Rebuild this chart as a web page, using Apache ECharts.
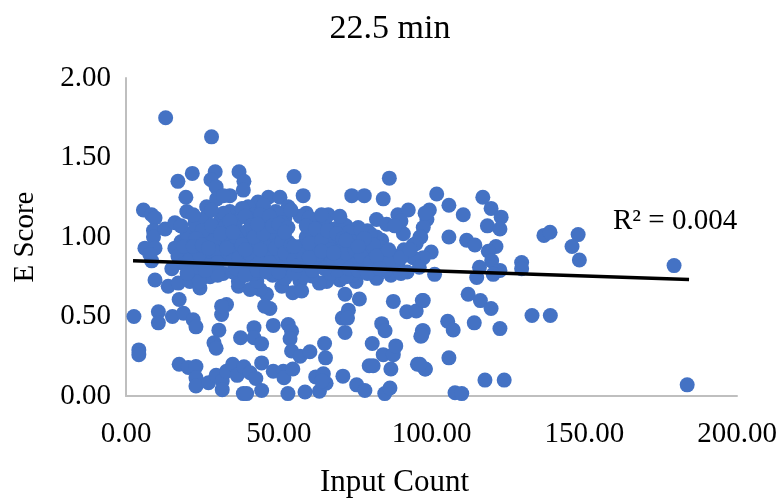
<!DOCTYPE html>
<html>
<head>
<meta charset="utf-8">
<title>22.5 min</title>
<script src="https://cdn.jsdelivr.net/npm/echarts@6/dist/echarts.min.js"></script>
<style>
html,body{margin:0;padding:0;background:#fff;}
#main{width:780px;height:502px;}
</style>
</head>
<body>
<div id="main"></div>
<script>
var chartTitle = '22.5 min';
var xName = 'Input Count';
var yName = 'E Score';
var r2Text = 'R² = 0.004';

// input count, e score
var lowPoints = [
	[2.6,0.50],[4.2,0.29],[4.2,0.26],[10.6,0.53],[10.6,0.46],[9.5,0.73],[15.2,0.50],[18.8,0.52],[22,0.48],[22.9,0.435],
	[17.4,0.607],[13.8,0.69],[17.1,0.71],[20.9,0.72],[24.2,0.68],[24.7,0.74],[30.4,0.414],[31.3,0.513],[32.9,0.575],[31.3,0.565],
	[28.8,0.335],[29.5,0.30],[37.5,0.366],[41.9,0.43],[41.9,0.366],[44.4,0.328],[48.2,0.444],[53.1,0.45],[54.2,0.408],[53.7,0.36],
	[54.2,0.283],[57,0.25],[60.2,0.278],[65,0.33],[65.3,0.24],[17.4,0.20],[20.4,0.18],[22.9,0.185],[22.9,0.115],[22.9,0.063],
	[27,0.083],[29.5,0.13],[31.5,0.095],[31.5,0.04],[32.9,0.156],[34.9,0.2],[36.4,0.13],[38.6,0.184],[40.6,0.146],[42.5,0.11],
	[44.4,0.208],[38.4,0.015],[39.5,0.015],[44.4,0.035],[48.2,0.156],[51.5,0.156],[51.7,0.115],[54.6,0.17],[53,0.015],[58.6,0.025],
	[63.3,0.03],[62.1,0.12],[64.6,0.14],[65.5,0.08],[64.1,0.095],[71,0.125],[75.5,0.07],[78.2,0.035],[84.7,0.015],[86.4,0.05],
	[79.6,0.19],[80.9,0.19],[86.7,0.17],[84.2,0.26],[87.5,0.26],[88.3,0.315],[80.6,0.33],[71.7,0.40],[70.8,0.49],[72.8,0.54],
	[72.5,0.49],[76.4,0.61],[71.7,0.64],[87.5,0.595],[83.7,0.455],[84.8,0.41],[91.9,0.53],[95,0.535],[97,0.60],[97,0.41],
	[96.5,0.376],[95.4,0.2],[97.9,0.17],[86.7,0.76],[75.3,0.72],[70,0.73],[65.7,0.72],[63.3,0.71],[60.8,0.755],[57,0.72],
	[54.6,0.65],[57.5,0.66],[51,0.69],[46,0.64],[47.1,0.55],[45.4,0.565],[43.9,0.67],[40.6,0.67],[36.8,0.69],[36.8,0.72],
	[42.8,0.72],[31.8,0.77],[27.5,0.75],[8.4,0.85],[15,0.8]
];
var rightPoints = [
	[101.7,1.27],[105.7,1.2],[110.4,1.14],[116.8,1.25],[119.5,1.18],[122.8,1.125],[118.3,1.07],[122.4,1.05],[105.7,1.0],[111.5,0.98],
	[114.2,0.95],[121.1,0.94],[118.6,0.91],[119.7,0.85],[115.7,0.81],[122.4,0.79],[120.2,0.765],[114.8,0.745],[129.5,0.84],[129.5,0.80],
	[136.8,1.01],[138.8,1.03],[148,1.015],[146,0.94],[148.4,0.855],[179.4,0.82],[183.7,0.07],[112,0.64],[116,0.6],[119.5,0.55],
	[132.9,0.506],[138.9,0.506],[122.4,0.424],[114,0.46],[105.3,0.47],[107.1,0.415],[105.7,0.24],[98,0.17],[96.2,0.2],[117.5,0.1],
	[123.8,0.1],[107.7,0.02],[109.9,0.015],[101,0.765],[97.3,0.6],[97.3,0.41],[96.8,0.38],[99.9,0.905],[97.3,0.87],[99.3,1.17],
	[98.5,1.11],[97.3,1.06],[96.5,1.0]
];
var upperPoints = [
	[12.98,1.75],[28,1.63],[17,1.35],[21.7,1.40],[29.2,1.41],[27.8,1.36],[29.5,1.315],[37,1.41],[38.6,1.35],[38.4,1.295],
	[55,1.38],[58,1.26],[86.2,1.37],[73.9,1.26],[78,1.26],[84.2,1.24],[5.7,1.17],[8.4,1.14],[9.5,1.12],[19.6,1.25],
	[19.9,1.16],[9,1.04],[9,1.0],[12.8,1.05],[16,1.09],[6.2,0.93],[9.5,0.93],[7.8,0.89],[26.4,1.19],[29.7,1.24],
	[34,1.26],[31.9,1.26],[34,1.16],[22.6,1.09],[30.8,1.1],[46.6,1.25],[50.4,1.25],[43.2,1.22],[40,1.19],[53.1,1.19],
	[59,1.15],[66.2,1.14],[70.6,1.09],[76,1.06],[82,1.11],[85.3,1.08],[89,1.14],[92.4,1.17],[97.9,1.15],[90.8,1.02],
	[83.7,0.98],[96.2,1.0]
];
// the solid cloud in the middle
var densePoints = [
	[16,0.93],[17,0.88],[18,0.97],[19,0.83],[20,1.02],[21,0.91],[22,0.79],[23,1.07],[24,0.96],[25,0.85],
	[26,1.12],[27,1.01],[28,0.9],[29,0.8],[30,1.05],[31,0.95],[32,1.15],[33,0.86],[34,1.0],[35,0.78],
	[36,1.1],[37,0.93],[38,1.18],[39,0.83],[40,1.04],[41,0.89],[42,1.14],[43,0.98],[44,0.8],[45,1.2],
	[46,1.08],[47,0.92],[48,0.76],[49,1.16],[50,1.02],[51,0.86],[52,1.12],[53,0.97],[54,0.8],
	[56,0.91],[57,1.13],[58,0.84],[59,1.0],[60,0.78],[61,1.08],[62,0.93],[63,1.02],[64,0.83],[65,1.1],
	[66,0.96],[67,0.77],[68,1.05],[69,0.89],[70,1.0],[71,0.82],[72,1.07],[73,0.94],[74,0.76],[75,1.02],
	[76,0.87],[77,0.97],[78,0.8],[79,1.04],[80,0.91],[81,0.78],[82,1.0],[83,0.86],[84,0.93],[85,0.79],
	[87,0.89],[89,0.82],[90,1.1],[91,0.92],[92,0.78],[94,0.87],[95,0.96],
	[96,0.81],[18,1.07],[20,0.77],[22,1.14],[24,0.72],[26,0.93],[28,1.17],[30,0.76],[32,0.99],[34,0.88],
	[36,0.8],[38,1.02],[40,1.12],[42,0.77],[44,1.07],[46,0.85],[48,0.98],[50,1.14],[52,0.74],[54,1.17],
	[58,0.75],[60,1.12],[62,0.82],[64,1.14],[66,0.86],[68,0.96],[70,1.13],[72,0.75],[74,0.88],
	[76,1.0],[78,0.92],[80,1.02],[82,0.74],[84,0.88],[86,0.84],[88,1.07],[90,0.77],[94,0.95],
	[25,1.04],[27,0.82],[29,0.98],[31,0.87],[33,1.08],[35,0.94],[37,1.03],[39,1.13],[41,0.97],[43,0.86],
	[45,0.95],[47,1.03],[49,0.81],[51,1.09],[53,0.88],[55,0.77],[59,0.92],[61,0.85],[63,0.97],
	[65,0.9],[67,1.0],[69,0.79],[71,0.93],[73,1.03],[75,0.84],[77,1.04],[79,0.85],[81,0.95],
	// second pass to close the white gaps
	[19,0.94],[21,0.86],[23,0.99],[24,0.89],[26,0.79],[28,1.07],[29,0.91],[30,0.84],[32,1.05],[33,0.93],
	[34,1.1],[35,0.85],[36,1.0],[37,0.87],[38,0.95],[39,0.76],[40,0.9],[41,1.07],[42,1.0],[43,0.79],
	[44,1.14],[44,0.92],[45,1.02],[46,0.78],[47,1.13],[48,1.07],[48,0.87],[49,0.93],[50,0.78],[50,1.08],
	[51,0.97],[52,0.9],[53,1.06],[54,0.95],[55,0.86],[56,0.82],[57,0.94],[58,0.89],[59,1.07],[60,0.96],
	[61,0.79],[62,1.05],[63,0.89],[64,0.98],[65,0.8],[66,1.04],[67,0.92],[68,0.84],[69,1.02],[70,0.87],
	[71,0.99],[72,0.9],[73,0.8],[74,0.97],[75,0.92],[76,0.79],[77,0.88],[78,0.99],[79,0.77],[80,0.84],
	[22,0.94],[25,0.95],[27,0.93],[31,1.02],[35,1.03],[39,0.92],[43,1.08],[47,0.84],[52,1.03],[55,0.94],
	[60,0.87],[64,0.91],[68,0.9],[72,0.98],[76,0.94],[82,0.88],[86,0.92],[90,0.87],[93,0.92],[83,0.8]
];
var scatterPoints = lowPoints.concat(rightPoints, upperPoints, densePoints);
var trendPoints = [[2.3,0.85],[184.3,0.733]];

var xMin = 0, xMax = 200, xStep = 50;
var yMin = 0, yMax = 2, yStep = 0.5;

var serif = '"Liberation Serif", serif';
var myChart = echarts.init(document.getElementById('main'));

var axisLine = {show: true, onZero: false, lineStyle: {color: '#BFBFBF', width: 2}};
var tickLabel = {
	color: '#000', fontFamily: serif, fontSize: 29,
	formatter: function (v) { return v.toFixed(2); }
};

var option = {
	animation: false,
	backgroundColor: '#fff',
	title: [
		{text: chartTitle, left: 385, top: 7, textAlign: 'center',
			textStyle: {color: '#000', fontFamily: serif, fontSize: 34, fontWeight: 'normal'}},
		{text: r2Text, left: 608, top: 202,
			textStyle: {color: '#000', fontFamily: serif, fontSize: 29, fontWeight: 'normal'}}
	],
	// outerBoundsMode off, or v6 squeezes the plot to fit the labels
	grid: {left: 126, right: 43, top: 78, bottom: 106, outerBoundsMode: 'none'},
	xAxis: {
		type: 'value', min: xMin, max: xMax, interval: xStep,
		name: xName, nameLocation: 'middle', nameGap: 71,
		nameTextStyle: {color: '#000', fontFamily: serif, fontSize: 31, padding: [0, 74, 0, 0]},
		splitLine: {show: false}, axisTick: {show: false},
		axisLine: axisLine,
		axisLabel: Object.assign({margin: 24, showMinLabel: true, showMaxLabel: true}, tickLabel)
	},
	yAxis: {
		type: 'value', min: yMin, max: yMax, interval: yStep,
		name: yName, nameLocation: 'middle', nameGap: 86,
		nameTextStyle: {color: '#000', fontFamily: serif, fontSize: 29},
		splitLine: {show: false}, axisTick: {show: false},
		axisLine: axisLine,
		axisLabel: Object.assign({margin: 15}, tickLabel)
	},
	series: [
		{
			name: 'points', type: 'scatter', symbolSize: 15, clip: false,
			itemStyle: {color: '#4472C4', opacity: 1, borderWidth: 0},
			data: scatterPoints
		},
		{
			name: 'trend', type: 'line', symbol: 'none', silent: true,
			lineStyle: {color: '#000', width: 3.5},
			data: trendPoints
		}
	]
};
myChart.setOption(option);
</script>
</body>
</html>
